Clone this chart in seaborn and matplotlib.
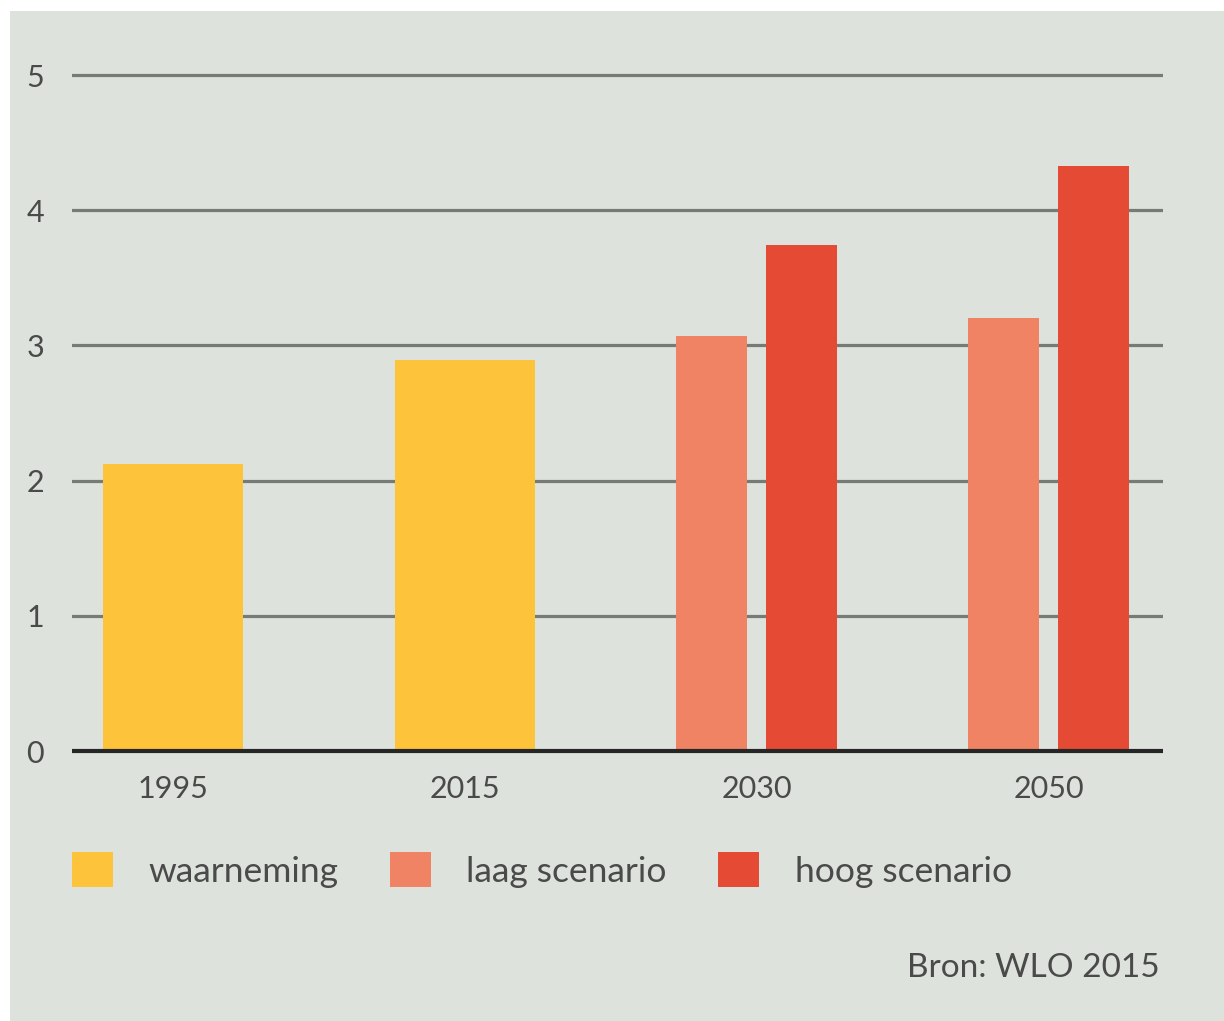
import matplotlib
matplotlib.use('Agg')
import matplotlib.pyplot as plt
from matplotlib.patches import Rectangle, Patch
import pandas as pd
import seaborn as sns

# --- data ---
years = ['1995', '2015', '2030', '2050']
obs_years = ['1995', '2015']
obs_values = [2.12, 2.89]
scen_years = ['2030', '2030', '2050', '2050']
scen_names = ['laag scenario', 'hoog scenario', 'laag scenario', 'hoog scenario']
scen_values = [3.07, 3.74, 3.20, 4.33]
series = ['waarneming', 'laag scenario', 'hoog scenario']
y_ticks = [0, 1, 2, 3, 4, 5]
source = 'Bron: WLO 2015'

colors = {'waarneming': '#fdc33a', 'laag scenario': '#f08363', 'hoog scenario': '#e54b34'}
bg = '#dee2dc'
text_col = '#4a4a4a'

obs = pd.DataFrame({'year': obs_years, 'series': 'waarneming', 'value': obs_values})
scen = pd.DataFrame({'year': scen_years, 'series': scen_names, 'value': scen_values})

sns.set_theme(style='white')
plt.rcParams['font.family'] = ['Lato', 'DejaVu Sans']

fig = plt.figure(figsize=(12.24, 10.21), dpi=100, facecolor='white')
fig.patches.append(Rectangle((10 / 1224, 0), 1, 1 - 11 / 1021, transform=fig.transFigure,
                             facecolor=bg, edgecolor='none', zorder=-10))
ax = fig.add_axes([72 / 1224, 0.2604, 1091 / 1224, 0.6767])
ax.set_facecolor('none')

sns.barplot(data=obs, x='year', y='value', hue='series', order=years,
            hue_order=['waarneming'], palette=colors, dodge=False, width=0.48,
            saturation=1, linewidth=0, legend=False, ax=ax, zorder=3)
sns.barplot(data=scen, x='year', y='value', hue='series', order=years,
            hue_order=['laag scenario', 'hoog scenario'], palette=colors,
            dodge=True, width=0.616, gap=0.214, saturation=1, linewidth=0,
            legend=False, ax=ax, zorder=3)

ax.set_xlim(-0.345, 3.392)
ax.set_ylim(-0.03, 5.08)
ax.set_yticks(y_ticks)
for t in y_ticks[1:]:
    ax.axhline(t, color='#777b76', lw=2.3, zorder=1)
ax.axhline(0, color='#262626', lw=3.0, zorder=4)

sns.despine(ax=ax, left=True, bottom=True)
ax.set_xlabel('')
ax.set_ylabel('')
ax.tick_params(axis='y', length=0, pad=20, labelsize=22, labelcolor=text_col)
ax.tick_params(axis='x', length=0, pad=14, labelsize=22, labelcolor=text_col)

handles = [Patch(facecolor=colors[s], edgecolor='none') for s in series]
fig.legend(handles, series, loc='center left', bbox_to_anchor=(72 / 1224, 0.148),
           ncol=3, frameon=False, fontsize=25.5, labelcolor=text_col,
           handlelength=1.16, handleheight=1.16, handletextpad=1.0,
           columnspacing=1.45, borderpad=0, borderaxespad=0)

fig.text(1160 / 1224, 0.052, source, ha='right', va='center', fontsize=24, color=text_col)

fig.savefig('out.png', dpi=100, facecolor=fig.get_facecolor())
